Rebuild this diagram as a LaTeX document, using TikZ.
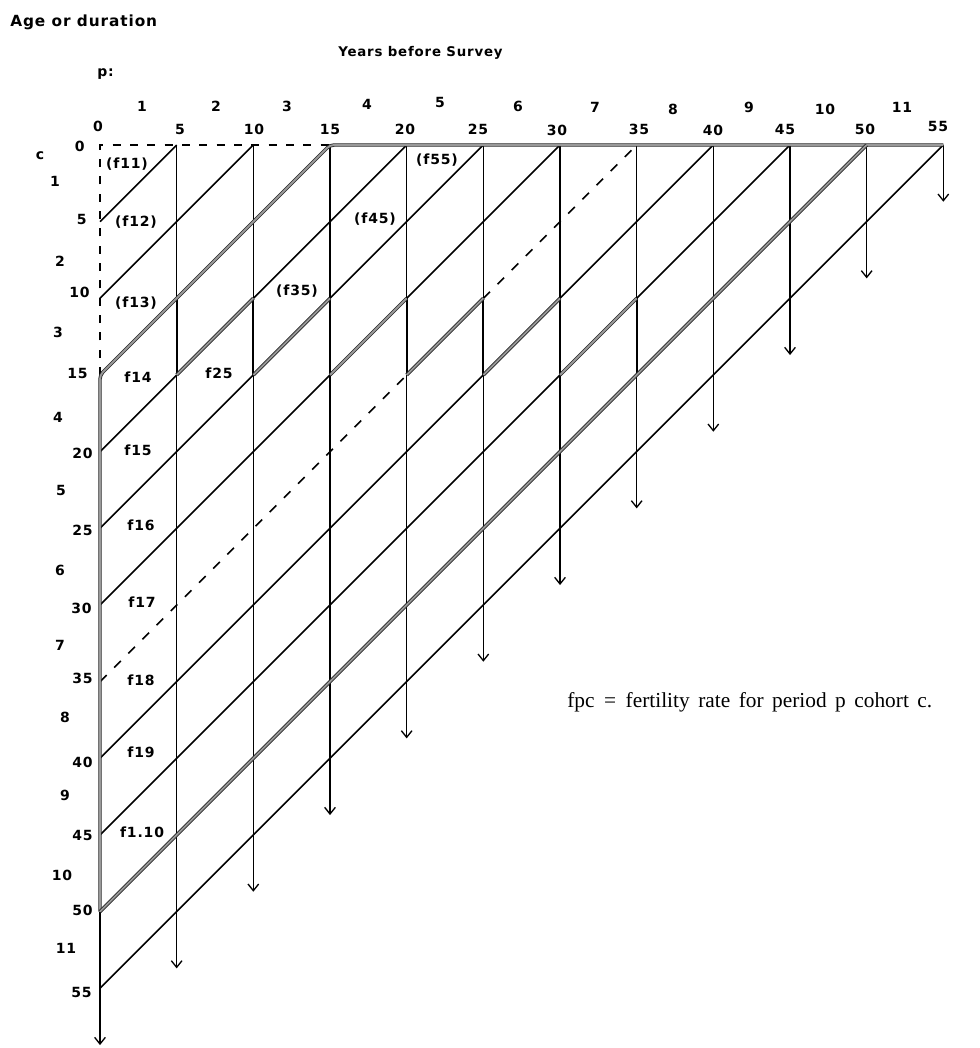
\documentclass[tikz,border=0pt]{standalone}
\usepackage{fontspec}
\setmainfont{Liberation Serif}
\newfontfamily\labfont[LetterSpace=6]{DejaVu Sans}
\usetikzlibrary{arrows.meta}
\tikzset{
  thinline/.style={line width=1.2pt},
  dbl/.style={draw=black!85, double=black!40, line width=0.6pt, double distance=1.4pt},
  bandline/.style={line width=1.7pt},
  dshframe/.style={line width=1.2pt, dash pattern=on 6pt off 7pt},
  dshdiag/.style={line width=1.2pt, dash pattern=on 7pt off 8pt},
  arr/.style={-{Straight Barb[length=5pt,width=8pt,line width=1pt]}},
  lab/.style={font=\labfont\bfseries\fontsize{10.5}{12}\selectfont, inner sep=0pt},
  title/.style={font=\labfont\bfseries\fontsize{11.5}{13}\selectfont, inner sep=0pt},
  subtitle/.style={font=\labfont\bfseries\fontsize{10}{12}\selectfont, inner sep=0pt},
  note/.style={font=\fontsize{16}{18}\selectfont, inner sep=0pt}
}
\begin{document}
\begin{tikzpicture}[x=0.75pt,y=-0.75pt]
\useasboundingbox (0,0) rectangle (979,1048);
\begin{scope}[shift={(100,145)},x=11.5pt,y=-11.5pt]
  \coordinate (O) at (0,0);
  % thin diagonals (cohort lines)
  \foreach \k in {5,10,20,25,30,40,45,55}
    \draw[thinline] (0,\k) coordinate (L\k) -- (\k,0) coordinate (T\k);
  % vertical period lines with arrows
  \foreach \u in {5,10,...,55}
    \draw[thinline,arr] (\u,0) coordinate (V\u) -- (\u,58.7-\u) coordinate (E\u);
  \coordinate (L50) at (0,50);
  \coordinate (E0) at (0,58.7);
  \draw[thinline,arr] (L50) -- (E0);
  % dashed frame and dashed diagonal
  \coordinate (L15) at (0,15);
  \coordinate (T15) at (15,0);
  \draw[dshframe] (L15) -- (O) -- (T15);
  \coordinate (L35) at (0,35);
  \coordinate (A35) at (20,15);
  \coordinate (B35) at (25,10);
  \coordinate (T35) at (35,0);
  \draw[dshdiag] (L35) -- (A35);
  \draw[dshdiag] (B35) -- (T35);
  % saw-tooth band between ages 10 and 15
  \foreach \u in {5,10,...,35}
    \draw[bandline] (\u,10) -- (\u,15);
  \foreach \j in {1,...,6}
    \draw[dbl] (5*\j,15) -- (5*\j+5,10);
  % main double frame
  \coordinate (T55) at (55,0);
  \coordinate (T50) at (50,0);
  \draw[dbl, rounded corners=3pt] (L50) -- (L15) -- (T15) -- (T55);
  \draw[dbl] (L50) -- (T50);
\end{scope}

% titles
\node[title, anchor=base west] (agetitle) at (10,27) {Age or duration};
\node[subtitle, anchor=base west] (yeartitle) at (338,57) {Years before Survey};
\node[lab, anchor=base west] (plab) at (97,77) {p:};
\node[lab, anchor=base] (clab) at (40,160) {c};

% period numbers
\foreach \t/\x/\y in {1/142/112, 2/216/112, 3/287/112, 4/367/110, 5/440/108, 6/518/112,
                      7/595/113, 8/673/115, 9/749/113, 10/825/115, 11/902/113}
  \node[lab, anchor=base] (p\t) at (\x,\y) {\t};

% years before survey
\foreach \t/\x/\y in {0/98/132, 5/180/135, 10/254/135, 15/330/135, 20/405/135, 25/478/135,
                      30/557/136, 35/639/135, 40/713/136, 45/785/135, 50/865/135, 55/938/132}
  \node[lab, anchor=base] (y\t) at (\x,\y) {\t};

% cohort numbers
\foreach \t/\x/\y in {1/55/187, 2/60/267, 3/58/337, 4/58/422, 5/61/495, 6/60/575,
                      7/60/650, 8/65/722, 9/65/800, 10/62/880, 11/66/953}
  \node[lab, anchor=base] (c\t) at (\x,\y) {\t};

% ages
\foreach \t/\x/\y in {0/85/152, 5/87/225, 10/90/297, 15/88/378, 20/93/458, 25/93/535,
                      30/92/613, 35/93/683, 40/93/767, 45/93/840, 50/93/915, 55/92/997}
  \node[lab, anchor=base east] (a\t) at (\x,\y) {\t};

% cell labels
\foreach \n/\t/\x/\y in {f11/(f11)/127/164, f12/(f12)/136/222, f13/(f13)/136/303,
                         f14/f14/138/377, f25/f25/219/373, f35/(f35)/297/291,
                         f45/(f45)/375/219, f55/(f55)/437/160, f15/f15/138/450,
                         f16/f16/141/525, f17/f17/142/602, f18/f18/141/680,
                         f19/f19/141/752, f110/f1.10/142/832}
  \node[lab] (\n) at (\x,\y) {\t};

% legend
\node[note, anchor=base west] (legend) at (567,707)
  {fpc\hspace{0.45em}=\hspace{0.45em}fertility\hspace{0.4em}rate\hspace{0.4em}for\hspace{0.4em}period\hspace{0.4em}p\hspace{0.4em}cohort\hspace{0.4em}c.};
\end{tikzpicture}
\end{document}
